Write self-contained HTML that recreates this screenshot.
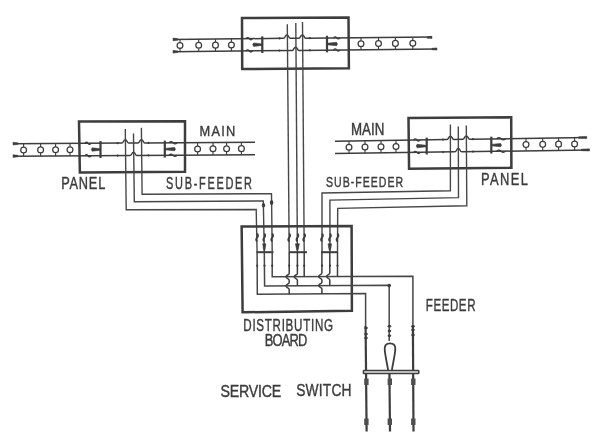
<!DOCTYPE html>
<html><head><meta charset="utf-8"><style>
html,body{margin:0;padding:0;background:#fff;}
svg{display:block;will-change:transform;}
text{font-family:"Liberation Sans",sans-serif;fill:#3c3c3c;}
</style></head><body>
<svg width="600" height="442" viewBox="0 0 600 442">
<defs><filter id="bl" x="0" y="0" width="600" height="442" filterUnits="userSpaceOnUse"><feGaussianBlur stdDeviation="0.4"/></filter></defs>
<g filter="url(#bl)">
<path d="M242.0,18.1 L348.5,17.4 L348.9,68.2 L242.2,69.0 Z" stroke="#3c3c3c" stroke-width="2.5" fill="none" stroke-linejoin="miter"/>
<path d="M173.00,39.40 L283.50,38.34 C285.10,38.34 285.10,35.04 286.90,35.04 C288.70,35.04 288.70,38.34 290.30,38.34 L298.90,38.20 C300.50,38.20 300.50,34.90 302.30,34.90 C304.10,34.90 304.10,38.20 305.70,38.20 L432.00,37.00" stroke="#3c3c3c" stroke-width="1.5" fill="none" />
<path d="M173.00,51.70 L292.20,50.45 C293.80,50.45 293.80,47.15 295.60,47.15 C297.40,47.15 297.40,50.45 299.00,50.45 L437.00,49.00" stroke="#3c3c3c" stroke-width="1.5" fill="none" />
<path d="M262.30,36.37 L262.30,52.99" stroke="#3c3c3c" stroke-width="2.2" fill="none"/>
<path d="M262.30,43.98 L253.70,42.98 Q251.90,44.68 253.70,46.38 L262.30,45.38 Z" stroke="#3c3c3c" stroke-width="0.6" fill="#3c3c3c" />
<path d="M327.00,35.77 L327.00,52.33" stroke="#3c3c3c" stroke-width="2.2" fill="none"/>
<path d="M327.00,43.35 L336.60,42.35 Q338.40,44.05 336.60,45.75 L327.00,44.75 Z" stroke="#3c3c3c" stroke-width="0.6" fill="#3c3c3c" />
<path d="M246.00,38.72 Q247.62,36.52 249.25,38.69 Q250.88,40.89 252.50,38.66" stroke="#3c3c3c" stroke-width="1.3" fill="none" />
<path d="M246.00,50.95 Q247.62,48.75 249.25,50.92 Q250.88,53.12 252.50,50.89" stroke="#3c3c3c" stroke-width="1.3" fill="none" />
<path d="M333.50,37.91 Q335.12,35.71 336.75,37.88 Q338.38,40.08 340.00,37.85" stroke="#3c3c3c" stroke-width="1.3" fill="none" />
<path d="M333.50,50.06 Q335.12,47.86 336.75,50.03 Q338.38,52.23 340.00,49.99" stroke="#3c3c3c" stroke-width="1.3" fill="none" />
<circle cx="279.50" cy="38.41" r="1.1" fill="#3c3c3c"/>
<circle cx="279.50" cy="50.61" r="1.1" fill="#3c3c3c"/>
<circle cx="309.90" cy="38.13" r="1.1" fill="#3c3c3c"/>
<circle cx="309.90" cy="50.30" r="1.1" fill="#3c3c3c"/>
<circle cx="180.00" cy="45.48" r="2.9" stroke="#3c3c3c" stroke-width="1.25" fill="none"/>
<path d="M180.00,39.34 L180.00,42.58" stroke="#3c3c3c" stroke-width="1.1" fill="none"/>
<path d="M180.00,48.38 L180.00,51.63" stroke="#3c3c3c" stroke-width="1.1" fill="none"/>
<circle cx="198.70" cy="45.30" r="2.9" stroke="#3c3c3c" stroke-width="1.25" fill="none"/>
<path d="M198.70,39.16 L198.70,42.40" stroke="#3c3c3c" stroke-width="1.1" fill="none"/>
<path d="M198.70,48.20 L198.70,51.44" stroke="#3c3c3c" stroke-width="1.1" fill="none"/>
<circle cx="215.50" cy="45.14" r="2.9" stroke="#3c3c3c" stroke-width="1.25" fill="none"/>
<path d="M215.50,39.01 L215.50,42.24" stroke="#3c3c3c" stroke-width="1.1" fill="none"/>
<path d="M215.50,48.04 L215.50,51.27" stroke="#3c3c3c" stroke-width="1.1" fill="none"/>
<circle cx="231.40" cy="44.98" r="2.9" stroke="#3c3c3c" stroke-width="1.25" fill="none"/>
<path d="M231.40,38.86 L231.40,42.08" stroke="#3c3c3c" stroke-width="1.1" fill="none"/>
<path d="M231.40,47.88 L231.40,51.10" stroke="#3c3c3c" stroke-width="1.1" fill="none"/>
<circle cx="361.00" cy="43.72" r="2.9" stroke="#3c3c3c" stroke-width="1.25" fill="none"/>
<path d="M361.00,37.66 L361.00,40.82" stroke="#3c3c3c" stroke-width="1.1" fill="none"/>
<path d="M361.00,46.62 L361.00,49.78" stroke="#3c3c3c" stroke-width="1.1" fill="none"/>
<circle cx="378.50" cy="43.55" r="2.9" stroke="#3c3c3c" stroke-width="1.25" fill="none"/>
<path d="M378.50,37.50 L378.50,40.65" stroke="#3c3c3c" stroke-width="1.1" fill="none"/>
<path d="M378.50,46.45 L378.50,49.60" stroke="#3c3c3c" stroke-width="1.1" fill="none"/>
<circle cx="395.40" cy="43.38" r="2.9" stroke="#3c3c3c" stroke-width="1.25" fill="none"/>
<path d="M395.40,37.34 L395.40,40.48" stroke="#3c3c3c" stroke-width="1.1" fill="none"/>
<path d="M395.40,46.28 L395.40,49.43" stroke="#3c3c3c" stroke-width="1.1" fill="none"/>
<circle cx="412.80" cy="43.21" r="2.9" stroke="#3c3c3c" stroke-width="1.25" fill="none"/>
<path d="M412.80,37.18 L412.80,40.31" stroke="#3c3c3c" stroke-width="1.1" fill="none"/>
<path d="M412.80,46.11 L412.80,49.25" stroke="#3c3c3c" stroke-width="1.1" fill="none"/>
<path d="M79.0,121.5 L185.0,121.2 L185.0,171.8 L79.85,172.6 Z" stroke="#3c3c3c" stroke-width="2.5" fill="none" stroke-linejoin="miter"/>
<path d="M13.00,143.80 L121.90,143.10 C123.50,143.10 123.50,139.80 125.30,139.80 C127.10,139.80 127.10,143.10 128.70,143.10 L138.00,143.00 C139.60,143.00 139.60,139.70 141.40,139.70 C143.20,139.70 143.20,143.00 144.80,143.00 L255.00,142.30" stroke="#3c3c3c" stroke-width="1.5" fill="none" />
<path d="M13.00,156.30 L130.10,155.55 C131.70,155.55 131.70,152.25 133.50,152.25 C135.30,152.25 135.30,155.55 136.90,155.55 L255.00,154.80" stroke="#3c3c3c" stroke-width="1.5" fill="none" />
<path d="M100.50,141.06 L100.50,157.96" stroke="#3c3c3c" stroke-width="2.2" fill="none"/>
<path d="M100.50,148.81 L92.20,147.81 Q90.40,149.51 92.20,151.21 L100.50,150.21 Z" stroke="#3c3c3c" stroke-width="0.6" fill="#3c3c3c" />
<path d="M164.80,140.66 L164.80,157.56" stroke="#3c3c3c" stroke-width="2.2" fill="none"/>
<path d="M164.80,148.41 L174.60,147.41 Q176.40,149.11 174.60,150.81 L164.80,149.81 Z" stroke="#3c3c3c" stroke-width="0.6" fill="#3c3c3c" />
<path d="M85.00,143.35 Q86.50,141.15 88.00,143.34 Q89.50,145.54 91.00,143.32" stroke="#3c3c3c" stroke-width="1.3" fill="none" />
<path d="M85.00,155.85 Q86.50,153.65 88.00,155.84 Q89.50,158.04 91.00,155.82" stroke="#3c3c3c" stroke-width="1.3" fill="none" />
<path d="M169.00,142.83 Q171.00,140.63 173.00,142.81 Q175.00,145.01 177.00,142.78" stroke="#3c3c3c" stroke-width="1.3" fill="none" />
<path d="M169.00,155.33 Q171.00,153.13 173.00,155.31 Q175.00,157.51 177.00,155.28" stroke="#3c3c3c" stroke-width="1.3" fill="none" />
<circle cx="117.60" cy="143.15" r="1.1" fill="#3c3c3c"/>
<circle cx="117.60" cy="155.65" r="1.1" fill="#3c3c3c"/>
<circle cx="148.50" cy="142.96" r="1.1" fill="#3c3c3c"/>
<circle cx="148.50" cy="155.46" r="1.1" fill="#3c3c3c"/>
<circle cx="23.60" cy="149.98" r="2.9" stroke="#3c3c3c" stroke-width="1.25" fill="none"/>
<path d="M23.60,143.73 L23.60,147.08" stroke="#3c3c3c" stroke-width="1.1" fill="none"/>
<path d="M23.60,152.88 L23.60,156.23" stroke="#3c3c3c" stroke-width="1.1" fill="none"/>
<circle cx="40.60" cy="149.88" r="2.9" stroke="#3c3c3c" stroke-width="1.25" fill="none"/>
<path d="M40.60,143.63 L40.60,146.98" stroke="#3c3c3c" stroke-width="1.1" fill="none"/>
<path d="M40.60,152.78 L40.60,156.13" stroke="#3c3c3c" stroke-width="1.1" fill="none"/>
<circle cx="55.60" cy="149.79" r="2.9" stroke="#3c3c3c" stroke-width="1.25" fill="none"/>
<path d="M55.60,143.54 L55.60,146.89" stroke="#3c3c3c" stroke-width="1.1" fill="none"/>
<path d="M55.60,152.69 L55.60,156.04" stroke="#3c3c3c" stroke-width="1.1" fill="none"/>
<circle cx="70.00" cy="149.70" r="2.9" stroke="#3c3c3c" stroke-width="1.25" fill="none"/>
<path d="M70.00,143.45 L70.00,146.80" stroke="#3c3c3c" stroke-width="1.1" fill="none"/>
<path d="M70.00,152.60 L70.00,155.95" stroke="#3c3c3c" stroke-width="1.1" fill="none"/>
<circle cx="197.60" cy="148.91" r="2.9" stroke="#3c3c3c" stroke-width="1.25" fill="none"/>
<path d="M197.60,142.66 L197.60,146.01" stroke="#3c3c3c" stroke-width="1.1" fill="none"/>
<path d="M197.60,151.81 L197.60,155.16" stroke="#3c3c3c" stroke-width="1.1" fill="none"/>
<circle cx="213.00" cy="148.81" r="2.9" stroke="#3c3c3c" stroke-width="1.25" fill="none"/>
<path d="M213.00,142.56 L213.00,145.91" stroke="#3c3c3c" stroke-width="1.1" fill="none"/>
<path d="M213.00,151.71 L213.00,155.06" stroke="#3c3c3c" stroke-width="1.1" fill="none"/>
<circle cx="226.60" cy="148.73" r="2.9" stroke="#3c3c3c" stroke-width="1.25" fill="none"/>
<path d="M226.60,142.48 L226.60,145.83" stroke="#3c3c3c" stroke-width="1.1" fill="none"/>
<path d="M226.60,151.63 L226.60,154.98" stroke="#3c3c3c" stroke-width="1.1" fill="none"/>
<circle cx="241.40" cy="148.63" r="2.9" stroke="#3c3c3c" stroke-width="1.25" fill="none"/>
<path d="M241.40,142.38 L241.40,145.73" stroke="#3c3c3c" stroke-width="1.1" fill="none"/>
<path d="M241.40,151.53 L241.40,154.88" stroke="#3c3c3c" stroke-width="1.1" fill="none"/>
<path d="M408.5,118.1 L511.2,117.2 L511.4,167.8 L409.05,168.8 Z" stroke="#3c3c3c" stroke-width="2.5" fill="none" stroke-linejoin="miter"/>
<path d="M335.00,141.20 L447.00,139.50 C448.60,139.50 448.60,136.20 450.40,136.20 C452.20,136.20 452.20,139.50 453.80,139.50 L462.90,139.27 C464.50,139.27 464.50,135.97 466.30,135.97 C468.10,135.97 468.10,139.27 469.70,139.27 L586.70,137.50" stroke="#3c3c3c" stroke-width="1.5" fill="none" />
<path d="M335.00,153.60 L454.90,151.81 C456.50,151.81 456.50,148.51 458.30,148.51 C460.10,148.51 460.10,151.81 461.70,151.81 L589.40,149.90" stroke="#3c3c3c" stroke-width="1.5" fill="none" />
<path d="M426.70,137.65 L426.70,154.47" stroke="#3c3c3c" stroke-width="2.2" fill="none"/>
<path d="M426.70,145.36 L417.10,144.36 Q415.30,146.06 417.10,147.76 L426.70,146.76 Z" stroke="#3c3c3c" stroke-width="0.6" fill="#3c3c3c" />
<path d="M491.30,136.70 L491.30,153.53" stroke="#3c3c3c" stroke-width="2.2" fill="none"/>
<path d="M491.30,144.41 L500.60,143.41 Q502.40,145.11 500.60,146.81 L491.30,145.81 Z" stroke="#3c3c3c" stroke-width="0.6" fill="#3c3c3c" />
<path d="M413.60,140.04 Q415.28,137.84 416.95,140.00 Q418.63,142.20 420.30,139.95" stroke="#3c3c3c" stroke-width="1.3" fill="none" />
<path d="M413.60,152.46 Q415.28,150.26 416.95,152.41 Q418.63,154.61 420.30,152.36" stroke="#3c3c3c" stroke-width="1.3" fill="none" />
<path d="M496.60,138.82 Q498.85,136.62 501.10,138.76 Q503.35,140.96 505.60,138.69" stroke="#3c3c3c" stroke-width="1.3" fill="none" />
<path d="M496.60,151.25 Q498.85,149.05 501.10,151.18 Q503.35,153.38 505.60,151.12" stroke="#3c3c3c" stroke-width="1.3" fill="none" />
<circle cx="443.00" cy="139.61" r="1.1" fill="#3c3c3c"/>
<circle cx="443.00" cy="152.03" r="1.1" fill="#3c3c3c"/>
<circle cx="473.00" cy="139.17" r="1.1" fill="#3c3c3c"/>
<circle cx="473.00" cy="151.59" r="1.1" fill="#3c3c3c"/>
<circle cx="349.00" cy="147.20" r="2.9" stroke="#3c3c3c" stroke-width="1.25" fill="none"/>
<path d="M349.00,140.99 L349.00,144.30" stroke="#3c3c3c" stroke-width="1.1" fill="none"/>
<path d="M349.00,150.10 L349.00,153.40" stroke="#3c3c3c" stroke-width="1.1" fill="none"/>
<circle cx="365.00" cy="146.96" r="2.9" stroke="#3c3c3c" stroke-width="1.25" fill="none"/>
<path d="M365.00,140.76 L365.00,144.06" stroke="#3c3c3c" stroke-width="1.1" fill="none"/>
<path d="M365.00,149.86 L365.00,153.16" stroke="#3c3c3c" stroke-width="1.1" fill="none"/>
<circle cx="381.00" cy="146.73" r="2.9" stroke="#3c3c3c" stroke-width="1.25" fill="none"/>
<path d="M381.00,140.52 L381.00,143.83" stroke="#3c3c3c" stroke-width="1.1" fill="none"/>
<path d="M381.00,149.63 L381.00,152.93" stroke="#3c3c3c" stroke-width="1.1" fill="none"/>
<circle cx="396.00" cy="146.51" r="2.9" stroke="#3c3c3c" stroke-width="1.25" fill="none"/>
<path d="M396.00,140.30 L396.00,143.61" stroke="#3c3c3c" stroke-width="1.1" fill="none"/>
<path d="M396.00,149.41 L396.00,152.71" stroke="#3c3c3c" stroke-width="1.1" fill="none"/>
<circle cx="526.00" cy="144.61" r="2.9" stroke="#3c3c3c" stroke-width="1.25" fill="none"/>
<path d="M526.00,138.39 L526.00,141.71" stroke="#3c3c3c" stroke-width="1.1" fill="none"/>
<path d="M526.00,147.51 L526.00,150.82" stroke="#3c3c3c" stroke-width="1.1" fill="none"/>
<circle cx="542.70" cy="144.36" r="2.9" stroke="#3c3c3c" stroke-width="1.25" fill="none"/>
<path d="M542.70,138.15 L542.70,141.46" stroke="#3c3c3c" stroke-width="1.1" fill="none"/>
<path d="M542.70,147.26 L542.70,150.58" stroke="#3c3c3c" stroke-width="1.1" fill="none"/>
<circle cx="558.60" cy="144.13" r="2.9" stroke="#3c3c3c" stroke-width="1.25" fill="none"/>
<path d="M558.60,137.91 L558.60,141.23" stroke="#3c3c3c" stroke-width="1.1" fill="none"/>
<path d="M558.60,147.03 L558.60,150.35" stroke="#3c3c3c" stroke-width="1.1" fill="none"/>
<circle cx="574.60" cy="143.90" r="2.9" stroke="#3c3c3c" stroke-width="1.25" fill="none"/>
<path d="M574.60,137.68 L574.60,141.00" stroke="#3c3c3c" stroke-width="1.1" fill="none"/>
<path d="M574.60,146.80 L574.60,150.12" stroke="#3c3c3c" stroke-width="1.1" fill="none"/>
<path d="M173.00,38.00 L178.00,38.65 L178.00,40.15 L173.00,40.80 Z" stroke="#3c3c3c" stroke-width="0.5" fill="#3c3c3c" />
<path d="M173.00,50.30 L178.00,50.95 L178.00,52.45 L173.00,53.10 Z" stroke="#3c3c3c" stroke-width="0.5" fill="#3c3c3c" />
<path d="M432.00,36.30 L427.00,36.65 L427.00,38.15 L432.00,38.50 Z" stroke="#3c3c3c" stroke-width="0.5" fill="#3c3c3c" />
<path d="M437.00,47.90 L432.00,48.25 L432.00,49.75 L437.00,50.10 Z" stroke="#3c3c3c" stroke-width="0.5" fill="#3c3c3c" />
<path d="M13.00,142.20 L18.00,142.85 L18.00,144.35 L13.00,145.00 Z" stroke="#3c3c3c" stroke-width="0.5" fill="#3c3c3c" />
<path d="M13.00,154.70 L18.00,155.35 L18.00,156.85 L13.00,157.50 Z" stroke="#3c3c3c" stroke-width="0.5" fill="#3c3c3c" />
<path d="M586.70,136.40 L578.70,136.75 L578.70,138.25 L586.70,138.60 Z" stroke="#3c3c3c" stroke-width="0.5" fill="#3c3c3c" />
<path d="M589.40,148.80 L581.40,149.15 L581.40,150.65 L589.40,151.00 Z" stroke="#3c3c3c" stroke-width="0.5" fill="#3c3c3c" />
<path d="M287.30,24.20 L289.20,252.00" stroke="#474747" stroke-width="1.4" fill="none"/>
<path d="M295.80,23.10 L297.40,252.00" stroke="#474747" stroke-width="1.4" fill="none"/>
<path d="M302.50,22.00 L304.20,252.00" stroke="#474747" stroke-width="1.4" fill="none"/>
<path d="M141.40,127.70 L142.10,194.20 L271.50,193.70 L272.20,252.00" stroke="#474747" stroke-width="1.4" fill="none"/>
<path d="M133.50,133.50 L134.30,201.70 L263.30,201.00 L264.30,252.00" stroke="#474747" stroke-width="1.4" fill="none"/>
<path d="M125.30,129.00 L126.20,209.80 L256.20,209.50 L257.10,252.00" stroke="#474747" stroke-width="1.4" fill="none"/>
<path d="M450.40,124.50 L450.40,190.70 L322.00,193.00 L322.00,252.00" stroke="#474747" stroke-width="1.4" fill="none"/>
<path d="M458.30,126.40 L458.50,197.60 L329.90,200.10 L330.00,252.00" stroke="#474747" stroke-width="1.4" fill="none"/>
<path d="M466.30,125.40 L466.80,205.70 L337.70,208.40 L337.50,252.00" stroke="#474747" stroke-width="1.4" fill="none"/>
<ellipse cx="271.6" cy="202.5" rx="1.7" ry="2.6" fill="#3c3c3c"/>
<ellipse cx="263.5" cy="205.3" rx="1.6" ry="2.4" fill="#3c3c3c"/>
<path d="M241.65,226.55 L351.6,226.0 L351.9,310.7 L242.6,312.3 Z" stroke="#3c3c3c" stroke-width="2.5" fill="none" stroke-linejoin="miter"/>
<path d="M256.50,252.20 L273.50,252.20" stroke="#3c3c3c" stroke-width="2.0" fill="none"/>
<path d="M289.00,252.20 L307.00,252.20" stroke="#3c3c3c" stroke-width="2.0" fill="none"/>
<path d="M321.00,252.20 L337.50,252.20" stroke="#3c3c3c" stroke-width="2.0" fill="none"/>
<path d="M257.10,233.5 Q258.90,235.5 257.10,237.5 Q255.30,239.5 257.10,241.5" stroke="#3c3c3c" stroke-width="1.8" fill="none" />
<path d="M264.30,233.5 Q266.10,235.5 264.30,237.5 Q262.50,239.5 264.30,241.5" stroke="#3c3c3c" stroke-width="1.8" fill="none" />
<path d="M272.20,233.5 Q274.00,235.5 272.20,237.5 Q270.40,239.5 272.20,241.5" stroke="#3c3c3c" stroke-width="1.8" fill="none" />
<path d="M289.20,233.5 Q291.00,235.5 289.20,237.5 Q287.40,239.5 289.20,241.5" stroke="#3c3c3c" stroke-width="1.8" fill="none" />
<path d="M297.40,233.5 Q299.20,235.5 297.40,237.5 Q295.60,239.5 297.40,241.5" stroke="#3c3c3c" stroke-width="1.8" fill="none" />
<path d="M304.20,233.5 Q306.00,235.5 304.20,237.5 Q302.40,239.5 304.20,241.5" stroke="#3c3c3c" stroke-width="1.8" fill="none" />
<path d="M322.00,233.5 Q323.80,235.5 322.00,237.5 Q320.20,239.5 322.00,241.5" stroke="#3c3c3c" stroke-width="1.8" fill="none" />
<path d="M330.00,233.5 Q331.80,235.5 330.00,237.5 Q328.20,239.5 330.00,241.5" stroke="#3c3c3c" stroke-width="1.8" fill="none" />
<path d="M337.50,233.5 Q339.30,235.5 337.50,237.5 Q335.70,239.5 337.50,241.5" stroke="#3c3c3c" stroke-width="1.8" fill="none" />
<path d="M262.70,243.8 L265.90,243.8 L264.90,250.2 L263.70,250.2 Z" stroke="#3c3c3c" stroke-width="0.6" fill="#3c3c3c" />
<path d="M295.40,243.8 L299.40,243.8 L298.00,250.2 L296.80,250.2 Z" stroke="#3c3c3c" stroke-width="0.6" fill="#3c3c3c" />
<path d="M328.00,243.8 L331.60,243.8 L330.40,250.2 L329.20,250.2 Z" stroke="#3c3c3c" stroke-width="0.6" fill="#3c3c3c" />
<path d="M272.20,252.00 L272.20,276.80 L412.90,276.20 L412.90,326.00" stroke="#474747" stroke-width="1.5" fill="none"/>
<path d="M264.30,252.00 L264.60,286.00 L389.20,285.30 L389.20,341.00" stroke="#474747" stroke-width="1.5" fill="none"/>
<path d="M257.10,252.00 L257.30,294.20 L365.60,293.60 L365.60,326.00" stroke="#474747" stroke-width="1.5" fill="none"/>
<circle cx="389.20" cy="285.60" r="1.8" fill="#3c3c3c"/>
<path d="M304.20,252.00 L304.20,276.80" stroke="#3c3c3c" stroke-width="1.5" fill="none" />
<path d="M297.40,252.00 L297.40,273.40 C297.40,275.00 294.20,275.00 294.20,276.80 C294.20,278.60 297.40,278.60 297.40,280.20 L297.40,286.00" stroke="#3c3c3c" stroke-width="1.5" fill="none" />
<path d="M289.20,252.00 L289.20,273.40 C289.20,275.00 286.00,275.00 286.00,276.80 C286.00,278.60 289.20,278.60 289.20,280.20 L289.20,282.60 C289.20,284.20 286.00,284.20 286.00,286.00 C286.00,287.80 289.20,287.80 289.20,289.40 L289.20,294.20" stroke="#3c3c3c" stroke-width="1.5" fill="none" />
<path d="M337.50,252.00 L337.50,276.50" stroke="#3c3c3c" stroke-width="1.5" fill="none" />
<path d="M329.80,252.00 L329.80,273.10 C329.80,274.70 326.60,274.70 326.60,276.50 C326.60,278.30 329.80,278.30 329.80,279.90 L329.80,285.60" stroke="#3c3c3c" stroke-width="1.5" fill="none" />
<path d="M321.90,252.00 L321.90,273.10 C321.90,274.70 318.70,274.70 318.70,276.50 C318.70,278.30 321.90,278.30 321.90,279.90 L321.90,282.20 C321.90,283.80 318.70,283.80 318.70,285.60 C318.70,287.40 321.90,287.40 321.90,289.00 L321.90,293.90" stroke="#3c3c3c" stroke-width="1.5" fill="none" />
<circle cx="257.20" cy="265.70" r="1.1" fill="#3c3c3c"/>
<circle cx="264.50" cy="265.70" r="1.1" fill="#3c3c3c"/>
<circle cx="272.20" cy="265.70" r="1.1" fill="#3c3c3c"/>
<circle cx="289.20" cy="265.70" r="1.1" fill="#3c3c3c"/>
<circle cx="297.40" cy="265.70" r="1.1" fill="#3c3c3c"/>
<circle cx="304.20" cy="265.70" r="1.1" fill="#3c3c3c"/>
<circle cx="322.00" cy="265.70" r="1.1" fill="#3c3c3c"/>
<circle cx="330.00" cy="265.70" r="1.1" fill="#3c3c3c"/>
<circle cx="337.50" cy="265.70" r="1.1" fill="#3c3c3c"/>
<path d="M365.60,326.00 L366.60,431.50" stroke="#3c3c3c" stroke-width="2.2" fill="none"/>
<path d="M412.90,326.00 L413.50,431.50" stroke="#3c3c3c" stroke-width="2.2" fill="none"/>
<path d="M389.40,370.00 L390.00,431.50" stroke="#3c3c3c" stroke-width="2.2" fill="none"/>
<ellipse cx="366.00" cy="328.00" rx="1.8" ry="1.2" fill="#3c3c3c"/>
<ellipse cx="366.00" cy="334.00" rx="1.8" ry="1.2" fill="#3c3c3c"/>
<ellipse cx="366.00" cy="338.00" rx="1.8" ry="1.2" fill="#3c3c3c"/>
<ellipse cx="389.40" cy="326.30" rx="1.8" ry="1.2" fill="#3c3c3c"/>
<ellipse cx="389.40" cy="331.00" rx="1.8" ry="1.2" fill="#3c3c3c"/>
<ellipse cx="389.40" cy="335.70" rx="1.8" ry="1.2" fill="#3c3c3c"/>
<ellipse cx="413.00" cy="326.30" rx="1.8" ry="1.2" fill="#3c3c3c"/>
<ellipse cx="413.00" cy="330.00" rx="1.8" ry="1.2" fill="#3c3c3c"/>
<ellipse cx="413.00" cy="335.00" rx="1.8" ry="1.2" fill="#3c3c3c"/>
<rect x="364.20" y="378.5" width="4.4" height="6.5" fill="#505050"/>
<rect x="364.20" y="418.5" width="4.4" height="6.5" fill="#505050"/>
<rect x="387.60" y="378.5" width="4.4" height="6.5" fill="#505050"/>
<rect x="387.60" y="418.5" width="4.4" height="6.5" fill="#505050"/>
<rect x="411.10" y="378.5" width="4.4" height="6.5" fill="#505050"/>
<rect x="411.10" y="418.5" width="4.4" height="6.5" fill="#505050"/>
<rect x="363.4" y="370.6" width="55.4" height="2.9" rx="0.6" stroke="#3c3c3c" stroke-width="1.5" fill="#e6e6e6"/>
<path d="M388.1,370 C386.9,362 384.7,354 384.7,348.6 C384.7,344.8 387,343.3 390,343.3 C393,343.3 395.3,344.8 395.3,348.6 C395.3,354 393.1,362 391.9,370" stroke="#3c3c3c" stroke-width="1.8" fill="none" />
<text transform="translate(199.4,136.42) scale(0.85,1)" font-size="15.1" textLength="42.35" lengthAdjust="spacing" stroke="#3c3c3c" stroke-width="0.4">MAIN</text>
<text transform="translate(350.9,134.82) scale(0.85,1)" font-size="15.68" textLength="39.41" lengthAdjust="spacing" stroke="#3c3c3c" stroke-width="0.4">MAIN</text>
<text transform="translate(61.2,189.32) scale(0.78,1)" font-size="16.41" textLength="56.54" lengthAdjust="spacing" stroke="#3c3c3c" stroke-width="0.4">PANEL</text>
<text transform="translate(481,184.92) scale(0.78,1)" font-size="16.55" textLength="60.26" lengthAdjust="spacing" stroke="#3c3c3c" stroke-width="0.4">PANEL</text>
<text transform="translate(166,188.61999999999998) scale(0.7,1)" font-size="15.68" textLength="122.86" lengthAdjust="spacing" stroke="#3c3c3c" stroke-width="0.4">SUB-FEEDER</text>
<text transform="translate(326,187.17) scale(0.7,1)" font-size="15.1" textLength="110.29" lengthAdjust="spacing" stroke="#3c3c3c" stroke-width="0.4">SUB-FEEDER</text>
<text transform="translate(243.3,331.42) scale(0.72,1)" font-size="16.12" textLength="124.58" lengthAdjust="spacing" stroke="#3c3c3c" stroke-width="0.4">DISTRIBUTING</text>
<text transform="translate(264.7,346.42) scale(0.8,1)" font-size="16.12" textLength="53.12" lengthAdjust="spacing" stroke="#3c3c3c" stroke-width="0.4">BOARD</text>
<text transform="translate(425.8,310.92) scale(0.7,1)" font-size="16.55" textLength="71.00" lengthAdjust="spacing" stroke="#3c3c3c" stroke-width="0.4">FEEDER</text>
<text transform="translate(220.5,396.82) scale(0.85,1)" font-size="16.7" textLength="71.47" lengthAdjust="spacing" stroke="#3c3c3c" stroke-width="0.4">SERVICE</text>
<text transform="translate(296.25,396.42) scale(0.8,1)" font-size="17.28" textLength="69.06" lengthAdjust="spacing" stroke="#3c3c3c" stroke-width="0.4">SWITCH</text>
</g>
</svg></body></html>
